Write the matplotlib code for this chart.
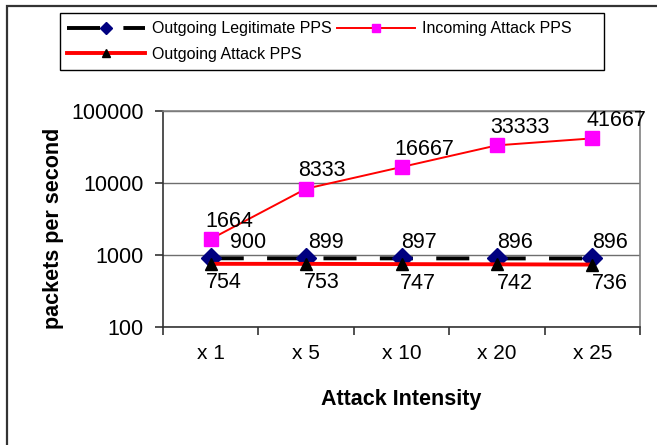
import matplotlib
matplotlib.use("Agg")
import matplotlib.pyplot as plt
from matplotlib.patches import Rectangle
from matplotlib.ticker import FixedLocator, FuncFormatter, NullLocator

categories = ["x 1", "x 5", "x 10", "x 20", "x 25"]
legit_out = [900, 899, 897, 896, 896]
attack_in = [1664, 8333, 16667, 33333, 41667]
attack_out = [754, 753, 747, 742, 736]
y_ticks = [100, 1000, 10000, 100000]

plt.rcParams["font.family"] = ["Liberation Sans", "DejaVu Sans"]

W, H = 657, 445
fig = plt.figure(figsize=(W / 100, H / 100), dpi=100)
ax = fig.add_axes([163 / W, 1 - 327 / H, (640 - 163) / W, (327 - 111) / H])

x = list(range(len(categories)))
h1, = ax.plot(x, legit_out, color="black", lw=2.8, dashes=(8.5, 6),
              marker="D", ms=10, mfc="#000080", mec="#000080",
              label="Outgoing Legitimate PPS", zorder=3)
h2, = ax.plot(x, attack_in, color="red", lw=1.4,
              marker="s", ms=9.5, mfc="#ff00ff", mec="#ff00ff",
              label="Incoming Attack PPS", zorder=3)
h3, = ax.plot(x, attack_out, color="red", lw=2.8,
              marker="^", ms=9, mfc="black", mec="black",
              label="Outgoing Attack PPS", zorder=4)

# data labels (offsets in pixels)
def put_labels(vals, dxs, dy):
    for i, v in enumerate(vals):
        ax.annotate(str(v), (i, v), xytext=(dxs[i], dy), textcoords="offset pixels",
                    ha="left", va="center", fontsize=15.5, zorder=5)

put_labels(attack_in, [-5, -8, -7, -7, -6], 18)
put_labels(legit_out, [19, 2, 0, 0, 0], 16)
put_labels(attack_out, [-5, -2, -2, 0, 0], -19)

ax.set_yscale("log")
ax.set_ylim(100, 100000)
ax.yaxis.set_major_locator(FixedLocator(y_ticks))
ax.yaxis.set_major_formatter(FuncFormatter(lambda v, p: f"{int(round(v))}"))
ax.yaxis.set_minor_locator(NullLocator())

ax.set_xlim(-0.5, len(categories) - 0.5)
ax.set_xticks(x)
ax.set_xticklabels(categories)
ax.set_xticks([i - 0.5 for i in range(len(categories) + 1)], minor=True)
ax.tick_params(axis="x", which="major", length=0, pad=12, labelsize=15)
ax.tick_params(axis="x", which="minor", length=6, width=1.2, direction="out", color="#333333")
ax.tick_params(axis="y", which="major", length=6, width=1.2, pad=8, labelsize=15.5, color="#333333")

ax.grid(axis="y", which="major", color="#6e6e6e", lw=1)
ax.set_axisbelow(True)
for s in ["top", "right"]:
    ax.spines[s].set_color("#808080")
    ax.spines[s].set_linewidth(1.2)
for s in ["left", "bottom"]:
    ax.spines[s].set_color("#333333")
    ax.spines[s].set_linewidth(1.2)

ax.set_ylabel("packets per second", fontsize=15.5, fontweight="bold", va="center")
ax.yaxis.set_label_coords((54 - 163) / 477, 0.458)
ax.set_xlabel("Attack Intensity", fontsize=15.5, fontweight="bold", va="center")
ax.xaxis.set_label_coords(0.5, -(400 - 327) / 216)

# chart area frame and legend box
fig.add_artist(Rectangle((7 / W, -0.2), 1.5, 1.2 - 6 / H, transform=fig.transFigure,
                         fill=False, ec="#333333", lw=1.6, clip_on=False))
fig.add_artist(Rectangle((60 / W, 1 - 70 / H), 544 / W, 57 / H, transform=fig.transFigure,
                         fill=False, ec="black", lw=1))
fig.legend(handles=[h1, h3, h2], ncol=2, loc="upper left",
           bbox_to_anchor=(64 / W, 1 - 18 / H), frameon=False, fontsize=11.5,
           handlelength=4.9, handletextpad=0.4, columnspacing=0.35,
           markerscale=0.6, labelspacing=0.65, borderaxespad=0, borderpad=0.2)

fig.savefig("out.png", dpi=100, facecolor="white")
